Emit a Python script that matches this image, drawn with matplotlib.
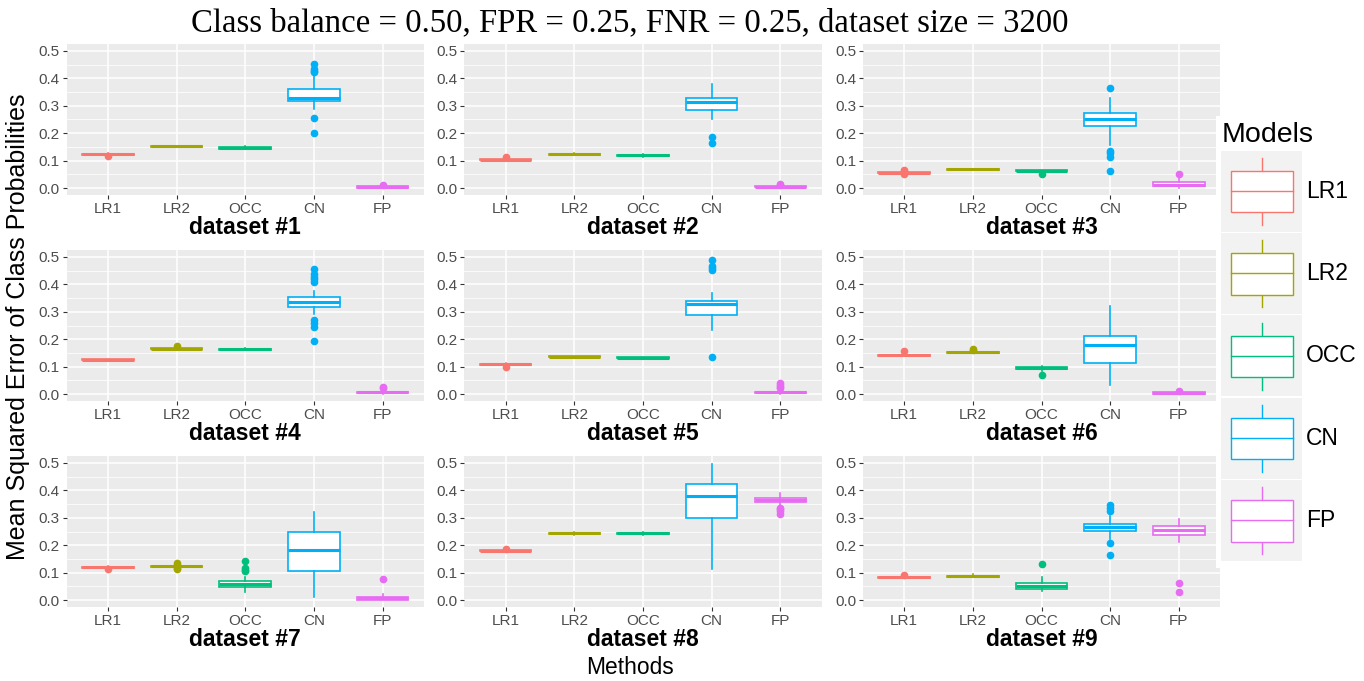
import matplotlib.pyplot as plt
from matplotlib.patches import Rectangle

models = ["LR1", "LR2", "OCC", "CN", "FP"]
colors = ["#F8766D", "#A3A500", "#00BF7D", "#00B0F6", "#E76BF3"]
datasets = ["dataset #%d" % i for i in range(1, 10)]
yticks = [0.0, 0.1, 0.2, 0.3, 0.4, 0.5]

# box summaries, one row per dataset, one column per model
whis_lo = [
    [0.121, 0.150, 0.141, 0.288, 0.000],
    [0.100, 0.121, 0.112, 0.251, 0.001],
    [0.053, 0.065, 0.060, 0.158, 0.000],
    [0.124, 0.161, 0.160, 0.291, 0.002],
    [0.105, 0.133, 0.129, 0.233, 0.002],
    [0.138, 0.149, 0.084, 0.035, 0.000],
    [0.115, 0.120, 0.030, 0.011, 0.000],
    [0.176, 0.239, 0.239, 0.115, 0.345],
    [0.079, 0.085, 0.035, 0.222, 0.210],
]
q1 = [
    [0.122, 0.150, 0.144, 0.317, 0.002],
    [0.101, 0.122, 0.116, 0.285, 0.003],
    [0.054, 0.066, 0.061, 0.225, 0.007],
    [0.125, 0.163, 0.161, 0.318, 0.005],
    [0.107, 0.134, 0.130, 0.290, 0.005],
    [0.140, 0.151, 0.091, 0.115, 0.002],
    [0.117, 0.122, 0.049, 0.106, 0.001],
    [0.178, 0.241, 0.241, 0.300, 0.356],
    [0.081, 0.086, 0.041, 0.252, 0.239],
]
med = [
    [0.124, 0.152, 0.147, 0.330, 0.004],
    [0.103, 0.124, 0.119, 0.314, 0.005],
    [0.056, 0.068, 0.063, 0.250, 0.012],
    [0.126, 0.165, 0.163, 0.336, 0.007],
    [0.109, 0.136, 0.132, 0.329, 0.007],
    [0.142, 0.153, 0.096, 0.180, 0.004],
    [0.119, 0.124, 0.059, 0.184, 0.007],
    [0.180, 0.243, 0.243, 0.379, 0.364],
    [0.083, 0.087, 0.053, 0.266, 0.257],
]
q3 = [
    [0.126, 0.154, 0.150, 0.360, 0.006],
    [0.105, 0.126, 0.121, 0.330, 0.007],
    [0.058, 0.069, 0.065, 0.275, 0.021],
    [0.128, 0.167, 0.165, 0.354, 0.009],
    [0.111, 0.138, 0.134, 0.340, 0.009],
    [0.144, 0.155, 0.100, 0.212, 0.006],
    [0.121, 0.126, 0.070, 0.248, 0.013],
    [0.182, 0.245, 0.245, 0.422, 0.371],
    [0.085, 0.089, 0.063, 0.278, 0.269],
]
whis_hi = [
    [0.127, 0.155, 0.152, 0.409, 0.008],
    [0.107, 0.127, 0.124, 0.380, 0.009],
    [0.060, 0.070, 0.067, 0.328, 0.040],
    [0.129, 0.168, 0.167, 0.377, 0.012],
    [0.113, 0.139, 0.136, 0.369, 0.013],
    [0.146, 0.157, 0.104, 0.320, 0.008],
    [0.123, 0.128, 0.084, 0.320, 0.021],
    [0.184, 0.247, 0.247, 0.496, 0.391],
    [0.087, 0.094, 0.086, 0.308, 0.297],
]
outliers = [
    [[0.118], [], [], [0.451, 0.433, 0.427, 0.422, 0.257, 0.200], [0.010]],
    [[0.115], [], [], [0.186, 0.166], [0.016, 0.012]],
    [[0.066, 0.063, 0.050], [], [0.053], [0.364, 0.136, 0.127, 0.115, 0.061], [0.053]],
    [[], [0.174], [], [0.455, 0.436, 0.427, 0.420, 0.410, 0.270, 0.260, 0.246, 0.195], [0.027, 0.021]],
    [[0.100], [], [], [0.490, 0.467, 0.460, 0.453, 0.135], [0.042, 0.035, 0.027, 0.021]],
    [[0.157], [0.164, 0.159], [0.069], [], [0.012]],
    [[0.112], [0.135, 0.129, 0.118, 0.114], [0.141, 0.118, 0.110, 0.106], [], [0.078]],
    [[0.188], [], [], [], [0.335, 0.331, 0.323, 0.314]],
    [[0.091], [], [0.132], [0.348, 0.336, 0.326, 0.209, 0.164], [0.061, 0.029]],
]

W, H = 1364, 681
fig = plt.figure(figsize=(W / 100, H / 100), dpi=100)
sans = "Liberation Sans"

col_x = [66.7, 464.5, 863]
row_y = [44, 250, 456]
pw, ph = 357, 151

for k in range(9):
    r, c = divmod(k, 3)
    ax = fig.add_axes([col_x[c] / W, 1 - (row_y[r] + ph) / H, pw / W, ph / H])
    ax.set_facecolor("#EBEBEB")
    for s in ax.spines.values():
        s.set_visible(False)
    ax.set_xlim(0.4, 5.6)
    ax.set_ylim(-0.025, 0.525)
    ax.set_yticks(yticks)
    ax.set_yticks([0.05, 0.15, 0.25, 0.35, 0.45], minor=True)
    ax.set_yticklabels(["%.1f" % v for v in yticks])
    ax.set_xticks(range(1, 6))
    ax.set_xticklabels(models)
    ax.grid(which="major", color="white", lw=1.1)
    ax.grid(which="minor", axis="y", color="white", lw=0.55)
    ax.set_axisbelow(True)
    ax.tick_params(which="major", length=2.75, width=0.8, color="#333333",
                   labelcolor="#4D4D4D", labelsize=11, pad=2.2)
    ax.tick_params(which="minor", length=0)
    for lab in ax.get_xticklabels() + ax.get_yticklabels():
        lab.set_fontfamily(sans)

    for j in range(5):
        st = dict(whislo=whis_lo[k][j], q1=q1[k][j], med=med[k][j], q3=q3[k][j],
                  whishi=whis_hi[k][j], fliers=outliers[k][j])
        col = colors[j]
        ax.bxp([st], positions=[j + 1], widths=0.75, patch_artist=True,
               showcaps=False, manage_ticks=False,
               boxprops=dict(facecolor="white", edgecolor=col, lw=1.2),
               whiskerprops=dict(color=col, lw=1.2),
               medianprops=dict(color=col, lw=2.2, solid_capstyle="butt"),
               flierprops=dict(marker="o", markerfacecolor=col, markeredgecolor=col,
                               markersize=4.5, linestyle="none"))

    ax.text(0.5, -33 / ph, datasets[k], transform=ax.transAxes, ha="center",
            va="center", fontsize=16.5, fontweight="bold", family=sans)

fig.text(630 / W, 1 - 23 / H, "Class balance = 0.50, FPR = 0.25, FNR = 0.25, dataset size = 3200",
         ha="center", va="center", fontsize=23.6, family="Liberation Serif")
fig.text(629.5 / W, 1 - 668 / H, "Methods", ha="center", va="center",
         fontsize=16.4, family=sans)
fig.text(18 / W, 1 - 327 / H, "Mean Squared Error of Class Probabilities", ha="center",
         va="center", rotation=90, fontsize=18, family=sans)

# legend drawn by hand in pixel coordinates
lg = fig.add_axes([1216 / W, 0, (W - 1216) / W, 1])
lg.set_xlim(1216, W)
lg.set_ylim(H, 0)
lg.axis("off")
lg.add_patch(Rectangle((1216, 116), W - 1216, 452, facecolor="white", edgecolor="none"))
lg.text(1222, 135, "Models", ha="left", va="center", fontsize=20.5, family=sans)
for i, (m, col) in enumerate(zip(models, colors)):
    top = 150.7 + i * 82.3
    lg.add_patch(Rectangle((1221, top), 81, 81, facecolor="#F2F2F2", edgecolor="none"))
    lg.plot([1261.7, 1261.7], [top + 7.3, top + 74.3], color=col, lw=1.0, zorder=2)
    lg.add_patch(Rectangle((1230.7, top + 20.3), 62, 41.3, facecolor="white",
                           edgecolor=col, lw=1.0, zorder=3))
    lg.plot([1230.7, 1292.7], [top + 40.3, top + 40.3], color=col, lw=1.0, zorder=4)
    lg.text(1306, top + 40.5, m, ha="left", va="center", fontsize=16.5, family=sans)

fig.savefig("out.png", dpi=100)
